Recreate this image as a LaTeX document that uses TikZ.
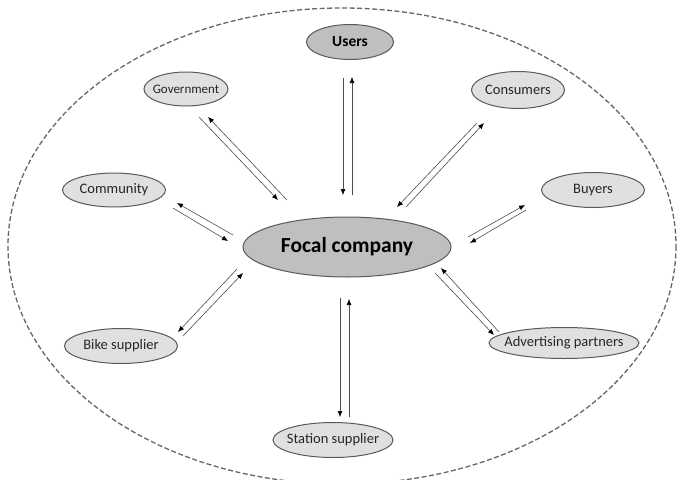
\documentclass[tikz,border=0pt]{standalone}
\usepackage{fontspec}
\setmainfont{Carlito}
\usetikzlibrary{shapes.geometric,arrows.meta}
\begin{document}
\begin{tikzpicture}[x=1pt,y=-1pt,
  actor/.style={ellipse,draw=black!65,line width=1pt,fill=black!12,inner xsep=-14pt,inner ysep=-5pt,text=black!85,font=\fontsize{14.5}{16}\selectfont},
  mainactor/.style={ellipse,draw=black!65,line width=1pt,fill=black!25,inner xsep=-4pt,inner ysep=-3pt,text=black,font=\bfseries\fontsize{15.5}{17}\selectfont},
  flow/.style={draw=black!70,line width=0.6pt,-{Latex[length=6pt,width=5pt,black]}}]
\useasboundingbox (0,0) rectangle (677,479);
\clip (0,0) rectangle (677,479);
\draw[black!60,line width=1.3pt,dash pattern=on 5pt off 2.5pt] (342,246) ellipse [x radius=334, y radius=238];

\node[mainactor,minimum width=208pt,minimum height=60pt,font=\bfseries\fontsize{21.5}{24}\selectfont] (focal) at (347,247) {Focal company};
\node[mainactor,minimum width=87pt,minimum height=35pt] (users) at (350,42) {Users};
\node[actor,minimum width=84pt,minimum height=34pt,font=\fontsize{13}{15}\selectfont] (gov) at (186,89) {Government};
\node[actor,minimum width=93pt,minimum height=37pt] (cons) at (518,90) {Consumers};
\node[actor,minimum width=103pt,minimum height=34pt] (comm) at (114,190) {Community};
\node[actor,minimum width=103pt,minimum height=35pt] (buy) at (593,190) {Buyers};
\node[actor,minimum width=113pt,minimum height=35pt] (bike) at (121,346) {Bike supplier};
\node[actor,minimum width=150pt,minimum height=31pt] (adv) at (564,343) {Advertising partners};
\node[actor,minimum width=120pt,minimum height=35pt] (stat) at (333,440) {Station supplier};

% arrow end points
\coordinate (u1a) at (343,78);  \coordinate (u1b) at (343,195);
\coordinate (u2a) at (352,195); \coordinate (u2b) at (352,77);
\coordinate (g1a) at (199,117); \coordinate (g1b) at (278,200);
\coordinate (g2a) at (287,200); \coordinate (g2b) at (208,117);
\coordinate (c1a) at (406,207); \coordinate (c1b) at (484,123);
\coordinate (c2a) at (477,123); \coordinate (c2b) at (397,207);
\coordinate (m1a) at (173,208); \coordinate (m1b) at (228,241);
\coordinate (m2a) at (233,235); \coordinate (m2b) at (177,203);
\coordinate (b1a) at (468,237); \coordinate (b1b) at (525,205);
\coordinate (b2a) at (526,210); \coordinate (b2b) at (470,243);
\coordinate (a1a) at (499,332); \coordinate (a1b) at (441,268);
\coordinate (a2a) at (435,273); \coordinate (a2b) at (494,335);
\coordinate (k1a) at (183,336); \coordinate (k1b) at (243,273);
\coordinate (k2a) at (237,269); \coordinate (k2b) at (178,332);
\coordinate (s1a) at (340,298); \coordinate (s1b) at (340,417);
\coordinate (s2a) at (349,417); \coordinate (s2b) at (349,299);

\foreach \p in {u1,u2,g1,g2,c1,c2,m1,m2,b1,b2,a1,a2,k1,k2,s1,s2}
  \draw[flow] (\p a) -- (\p b);
\end{tikzpicture}
\end{document}
